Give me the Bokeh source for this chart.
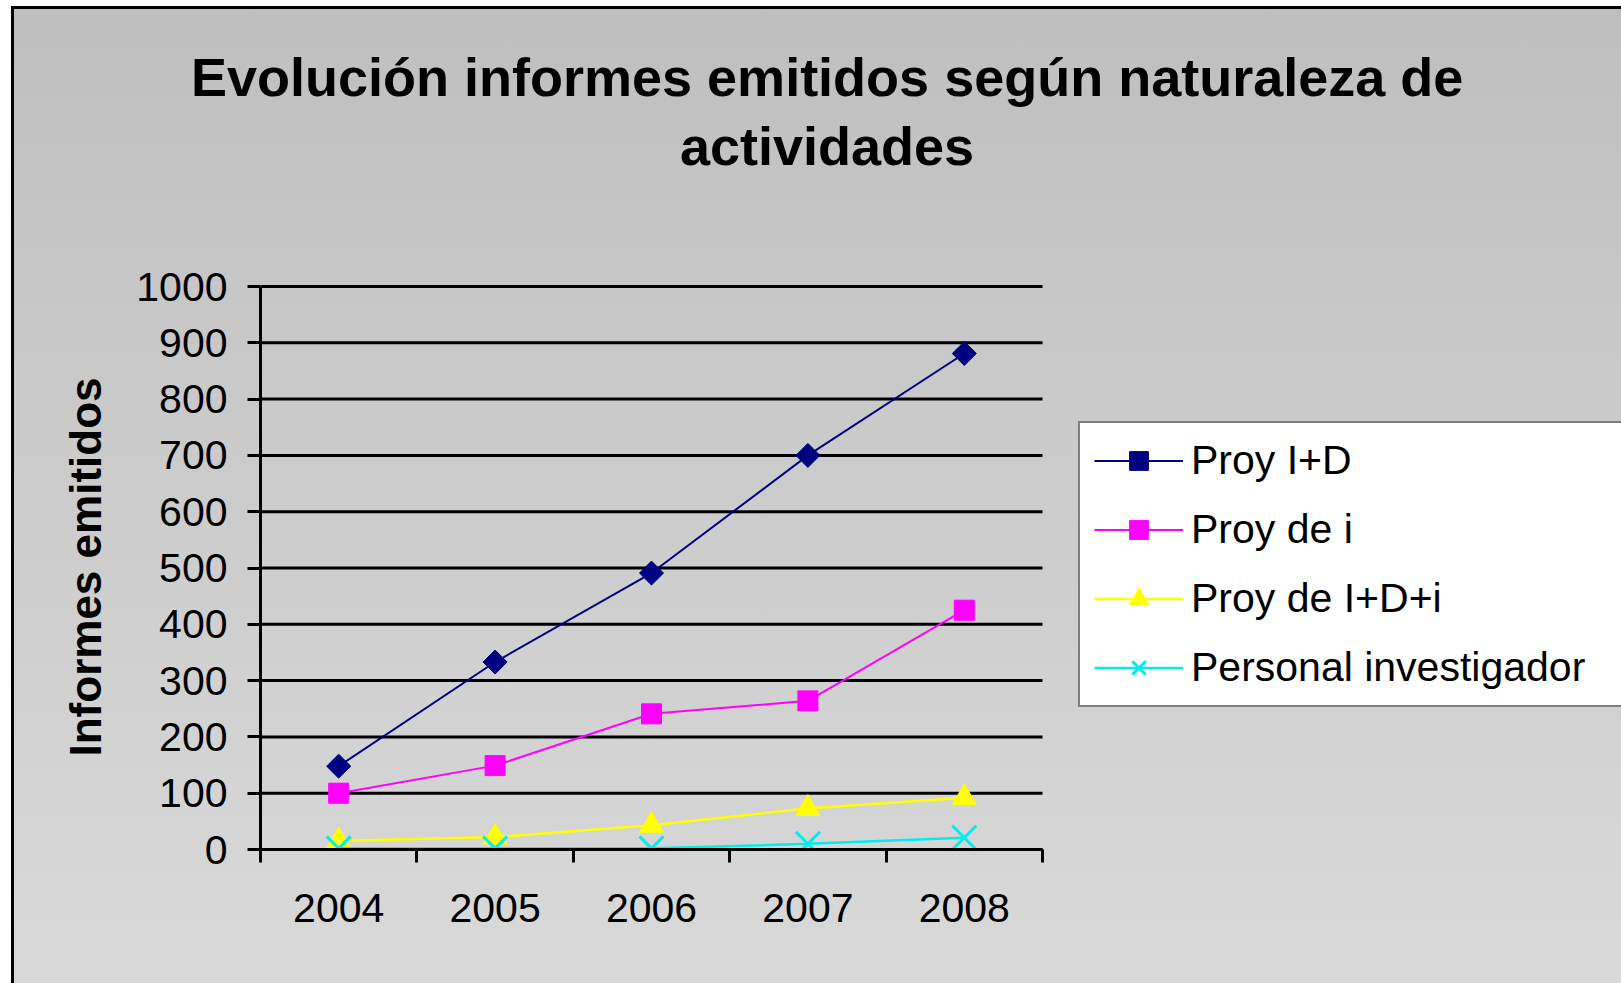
from bokeh.plotting import figure
from bokeh.models import (Range1d, FixedTicker, Legend, LegendItem, Title)
from bokeh.embed import file_html
from bokeh.resources import INLINE
import math

# ---------------- data ----------------
years = ["2004", "2005", "2006", "2007", "2008"]
proy_id = [148, 333, 491, 700, 881]          # Proy I+D
proy_i = [100, 149, 241, 264, 425]           # Proy de i
proy_idi = [15, 22, 43, 73, 92]              # Proy de I+D+i
personal = [2, 2, 2, 10, 21]                 # Personal investigador

series_names = ["Proy I+D", "Proy de i", "Proy de I+D+i", "Personal investigador"]
y_ticks = [0, 100, 200, 300, 400, 500, 600, 700, 800, 900, 1000]
title_lines = ["Evolución informes emitidos según naturaleza de", "actividades"]
y_title = "Informes emitidos"

FONT = "Liberation Sans"
W, H = 1621, 983

# ---------------- layout (pixels) ----------------
AX_LEFT, AX_RIGHT = 260, 1042      # plot area left / right edge on the page
AX_TOP, AX_BOTTOM = 286, 849       # value 1000 / value 0 on the page
FRAME_TOP = 284
n = len(years)
x_lo, x_hi = -0.5, n - 0.5         # category band edges
y_lo, y_hi = 0, max(y_ticks)
px_x = (AX_RIGHT - AX_LEFT) / (x_hi - x_lo)
px_y = (AX_BOTTOM - AX_TOP) / (y_hi - y_lo)
x_end = x_lo + (W - AX_LEFT) / px_x
y_end = y_lo + (AX_BOTTOM - FRAME_TOP) / px_y

x_pos = list(range(n))             # index of each year

p = figure(width=W, height=H, x_range=Range1d(x_lo, x_end), y_range=Range1d(y_lo, y_end),
           output_backend="svg", toolbar_location=None,
           min_border_left=AX_LEFT, min_border_right=0, min_border_top=FRAME_TOP,
           min_border_bottom=H - AX_BOTTOM)

p.background_fill_color = None
p.border_fill_color = None
p.outline_line_color = None
p.styles = {
    "background": ("linear-gradient(#000, #000) 11px 6px / 3px calc(100% - 6px) no-repeat, "
                   "linear-gradient(#000, #000) 11px 6px / calc(100% - 11px) 3px no-repeat, "
                   "linear-gradient(#bfbfbf, #d9d9d9) 11px 6px / calc(100% - 11px) calc(100% - 6px) no-repeat")
}
p.xgrid.grid_line_color = None
p.ygrid.grid_line_color = None

# horizontal grid lines spanning the category band only
p.segment(x0=[x_lo] * len(y_ticks), x1=[x_hi] * len(y_ticks), y0=y_ticks, y1=y_ticks,
          line_color="black", line_width=3)

# y axis
ya = p.yaxis[0]
ya.bounds = (y_lo, y_hi)
ya.ticker = FixedTicker(ticks=y_ticks)
ya.minor_tick_line_color = None
ya.major_tick_in = 0
ya.major_tick_out = 13
ya.major_tick_line_width = 3
ya.major_tick_line_color = "black"
ya.axis_line_width = 3
ya.axis_line_color = "black"
ya.major_label_text_font = FONT
ya.major_label_text_font_size = "41px"
ya.major_label_text_color = "black"
ya.major_label_standoff = 20
ya.axis_label = y_title
ya.axis_label_text_font = FONT
ya.axis_label_text_font_style = "bold"
ya.axis_label_text_font_size = "44px"
ya.axis_label_text_color = "black"
ya.axis_label_standoff = 23

# x axis: labels at category centres, tick marks at category boundaries
xa = p.xaxis[0]
xa.bounds = (x_lo, x_hi)
xa.ticker = FixedTicker(ticks=x_pos, minor_ticks=[i - 0.5 for i in range(n + 1)])
xa.major_label_overrides = {i: y for i, y in zip(x_pos, years)}
xa.major_tick_line_color = None
xa.major_tick_in = 0
xa.major_tick_out = 0
xa.minor_tick_in = 0
xa.minor_tick_out = 13
xa.minor_tick_line_width = 3
xa.minor_tick_line_color = "black"
xa.axis_line_width = 3
xa.axis_line_color = "black"
xa.major_label_text_font = FONT
xa.major_label_text_font_size = "41px"
xa.major_label_text_color = "black"
xa.major_label_standoff = 31

# series
specs = [
    (proy_id, "#000080", "square", math.pi / 4, 17, 2, 1),
    (proy_i, "#ff00ff", "square", 0, 20, 2, 1),
    (proy_idi, "#ffff00", "triangle", 0, 24, 2.5, 1),
    (personal, "#00eeee", "x", 0, 34, 2.5, 3),
]
items = []
for name, (vals, color, marker, ang, size, lw, mlw) in zip(series_names, specs):
    r1 = p.line(x_pos, vals, line_color=color, line_width=lw)
    r2 = p.scatter(x_pos, vals, marker=marker, angle=ang, size=size,
                   fill_color=color, line_color=color, line_width=mlw)
    items.append(LegendItem(label=name, renderers=[r1, r2]))

legend = Legend(items=items, location=(1078 - AX_LEFT, AX_BOTTOM - 707), margin=0,
                padding=14, spacing=22, glyph_width=89, glyph_height=47,
                label_height=47, label_width=419, label_standoff=8,
                label_text_font=FONT, label_text_font_size="41px",
                label_text_color="black",
                border_line_color="black", border_line_width=2,
                background_fill_color="white", background_fill_alpha=1)
p.add_layout(legend)

# title: two lines centred on x = 826.5 px, stacked above the plot area
TITLE_CX = 826.5
title_widths = [1272, 294]          # approx. rendered widths of the two lines
p.add_layout(Title(text=" ", text_font_size="10px", standoff=91), "above")   # spacer
p.add_layout(Title(text=title_lines[1], align="left",
                   offset=TITLE_CX - title_widths[1] / 2 - AX_LEFT, standoff=10,
                   text_font=FONT, text_font_style="bold", text_font_size="54px",
                   text_color="black"), "above")
p.add_layout(Title(text=title_lines[0], align="left",
                   offset=TITLE_CX - title_widths[0] / 2 - AX_LEFT, standoff=4,
                   text_font=FONT, text_font_style="bold", text_font_size="54px",
                   text_color="black"), "above")

open("out.html", "w").write(file_html(p, INLINE))
